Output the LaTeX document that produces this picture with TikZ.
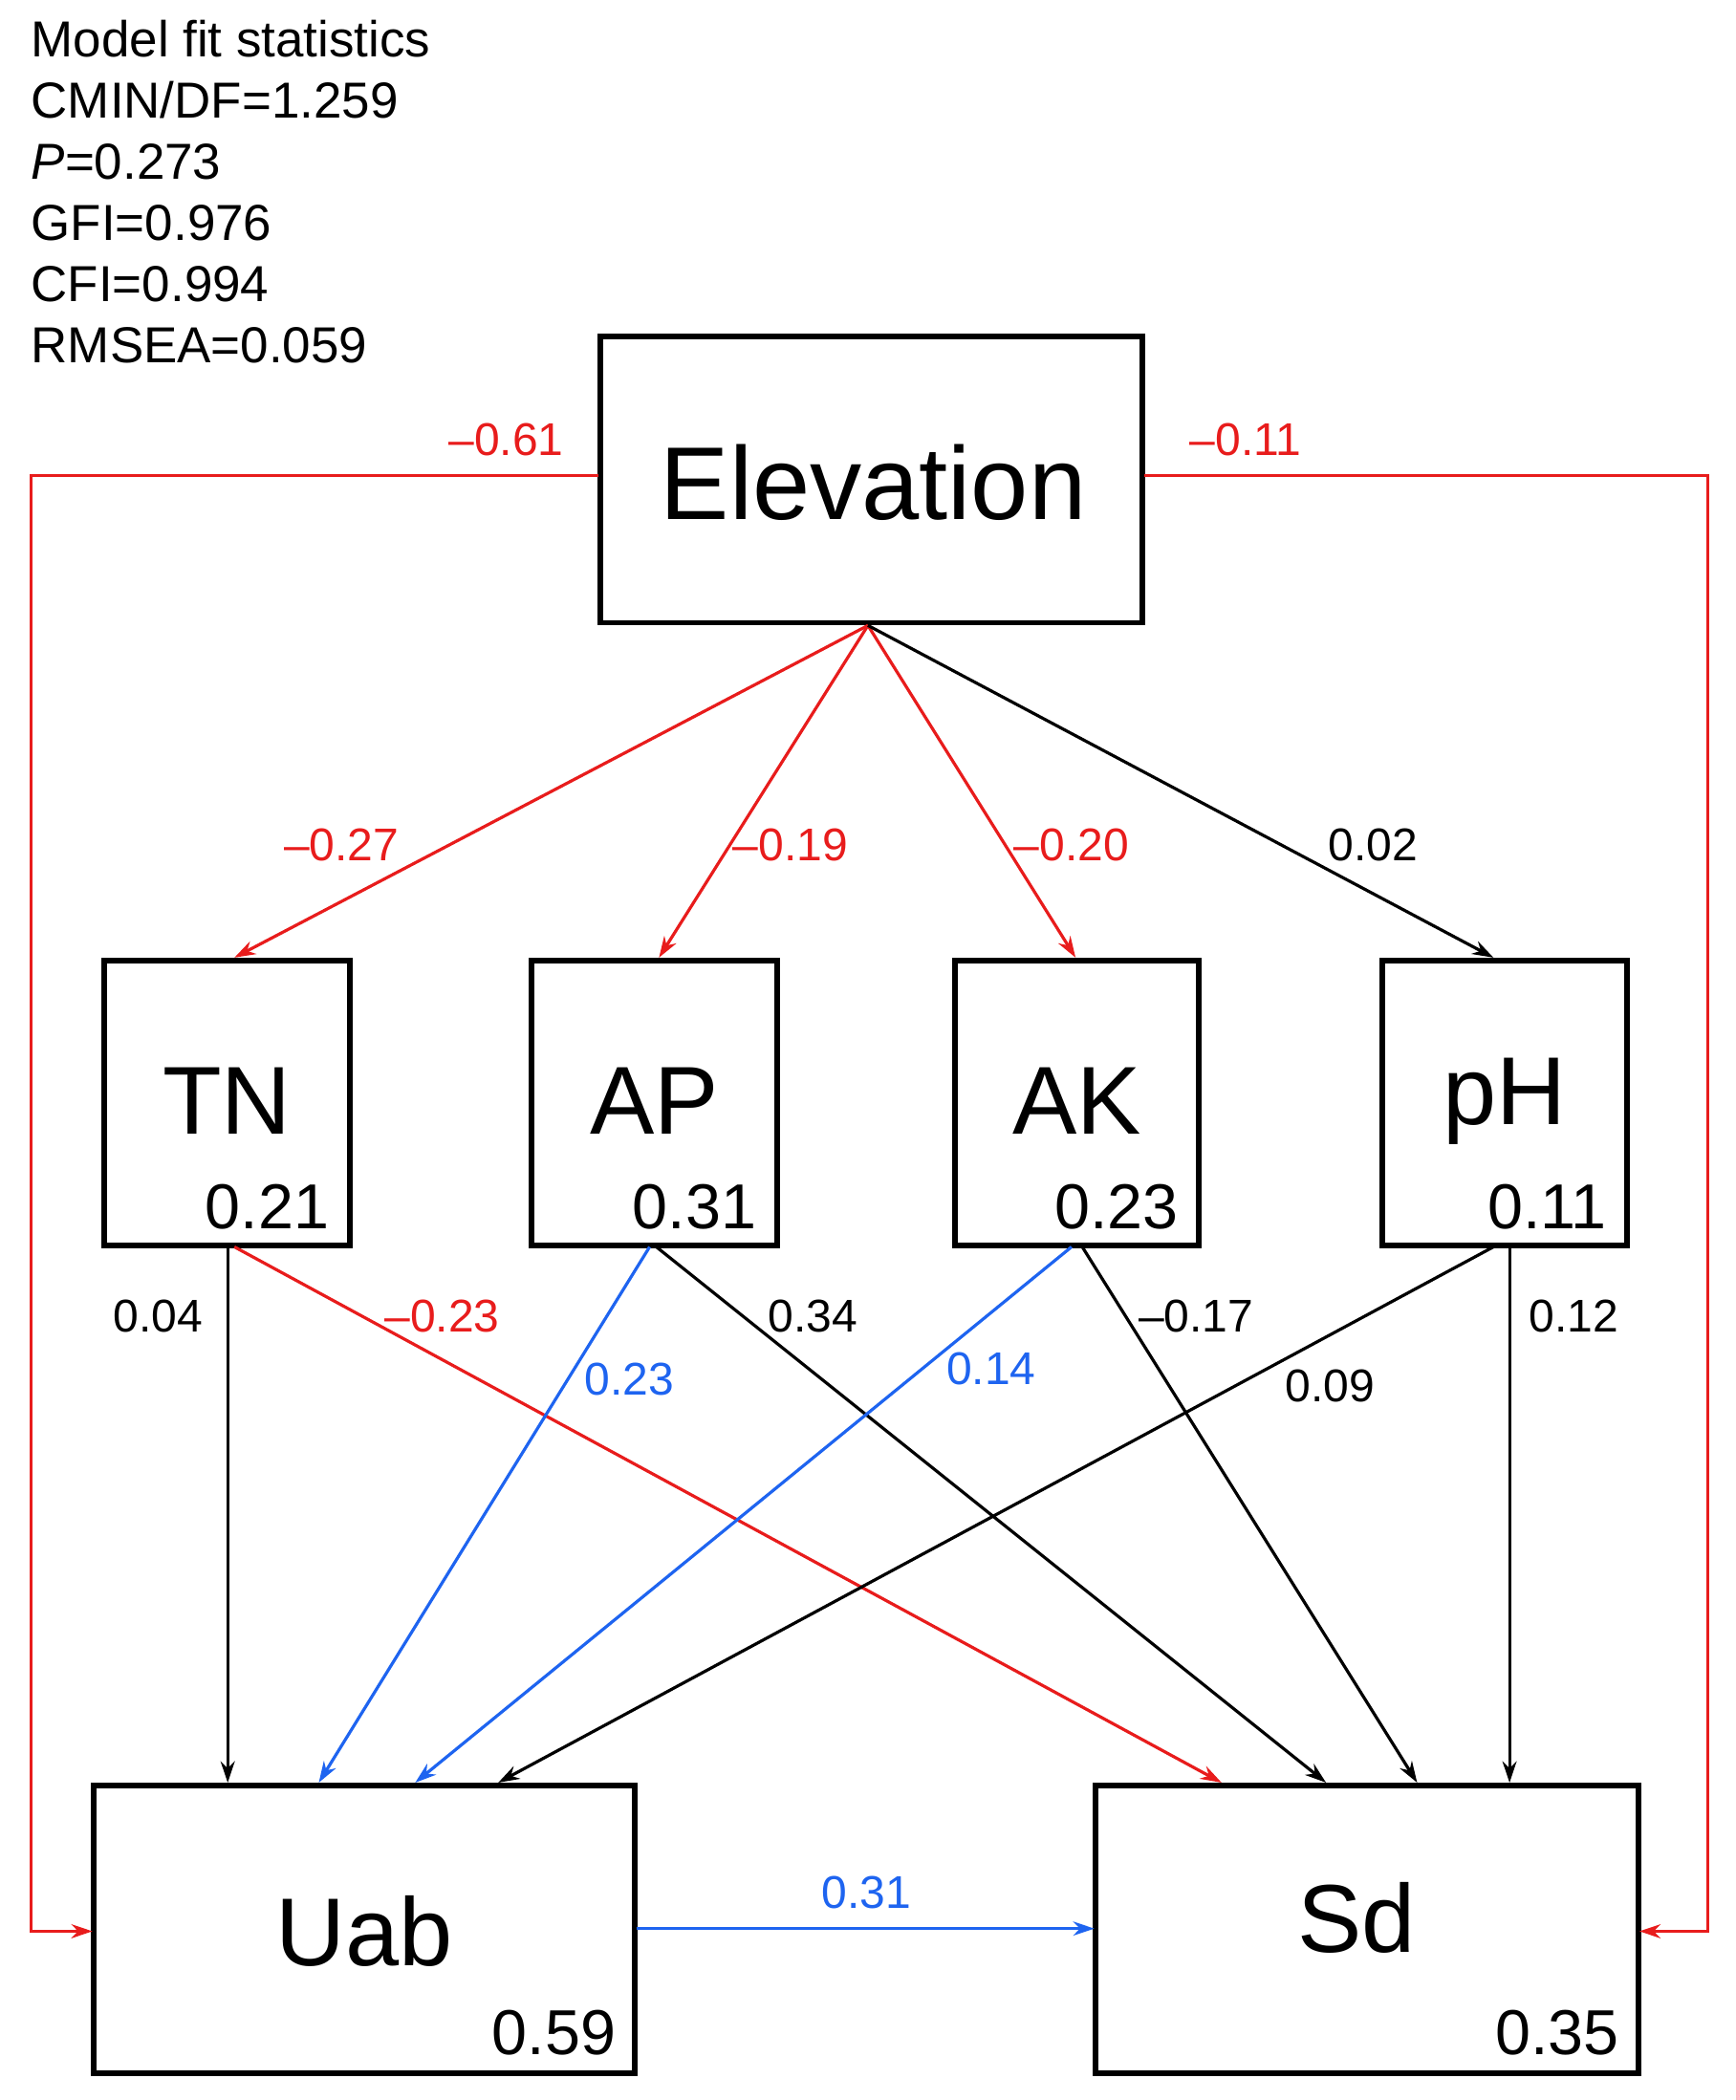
\documentclass[tikz,border=0pt]{standalone}
\usepackage{fontspec}
\setmainfont{Liberation Sans}
\usetikzlibrary{arrows.meta}
\definecolor{myred}{RGB}{232,28,28}
\definecolor{myblue}{RGB}{30,100,240}
\begin{document}
\begin{tikzpicture}[x=0.02cm,y=-0.02cm,
  box/.style={draw,line width=2.4pt,inner sep=0pt},
  arr/.style={line width=1.3pt,-{Stealth[length=9pt,width=6pt]}},
  lab/.style={font=\fontsize{19.5}{21}\selectfont,inner sep=0pt},
  big/.style={font=\fontsize{41}{45}\selectfont,inner sep=0pt},
  num/.style={font=\fontsize{27}{30}\selectfont,inner sep=0pt,anchor=south east}]
\useasboundingbox (0,0) rectangle (1296,1568);
\node[anchor=north west,align=left,font=\fontsize{21.5}{26}\selectfont,inner sep=0pt] (stats) at (23,15)
 {Model fit statistics\\CMIN/DF=1.259\\\textit{P}=0.273\\GFI=0.976\\CFI=0.994\\RMSEA=0.059};
% boxes
\draw[box] (448,251) rectangle (853,465);
\node[font=\fontsize{44}{48}\selectfont] (elev) at (652,360) {Elevation};
\foreach \n/\xa/\xb/\v in {TN/78/261/0.21, AP/397/580/0.31, AK/713/895/0.23, pH/1032/1215/0.11}{
  \draw[box] (\xa,717) rectangle (\xb,930);
  \node[big] (\n) at ({(\xa+\xb)/2},822) {\n};
  \node[num] (\n v) at (\xb-15,918) {\v};
}
\draw[box] (70,1333) rectangle (474,1548);
\node[big] (uab) at (272,1442) {Uab};
\node[num] (uabv) at (460,1535) {0.59};
\draw[box] (818,1333) rectangle (1223,1548);
\node[big] (sd) at (1013,1432) {Sd};
\node[num] (sdv) at (1209,1535) {0.35};
% coordinates
\coordinate (eb) at (648,467);
\coordinate (el) at (447,355); \coordinate (er) at (854,355);
\coordinate (ul) at (69,1442); \coordinate (ur) at (475,1440);
\coordinate (sl) at (817,1440); \coordinate (sr) at (1224,1442);
\coordinate (tnt) at (175,715); \coordinate (apt) at (492,715);
\coordinate (akt) at (803,715); \coordinate (pht) at (1115,715);
% elevation arrows
\draw[arr,myred] (el) -- (23,355) -- (23,1442) -- (ul);
\draw[arr,myred] (er) -- (1275,355) -- (1275,1442) -- (sr);
\draw[arr,myred] (eb) -- (tnt);
\draw[arr,myred] (eb) -- (apt);
\draw[arr,myred] (eb) -- (akt);
\draw[arr] (eb) -- (pht);
\node[lab,myred] (l1) at (378,328) {–0.61};
\node[lab,myred] (l2) at (930,328) {–0.11};
\node[lab,myred] (l3) at (255,631) {–0.27};
\node[lab,myred] (l4) at (590,631) {–0.19};
\node[lab,myred] (l5) at (800,631) {–0.20};
\node[lab] (l6) at (1025,631) {0.02};
% soil arrows
\draw[arr] (170,931) -- (170,1331);
\draw[arr,myred] (175,931) -- (912,1331);
\draw[arr,myblue] (485,931) -- (238,1331);
\draw[arr] (490,931) -- (990,1331);
\draw[arr,myblue] (800,931) -- (310,1331);
\draw[arr] (808,931) -- (1058,1331);
\draw[arr] (1115,931) -- (372,1331);
\draw[arr] (1127,931) -- (1127,1331);
\draw[arr,myblue] (ur) -- (sl);
\node[lab] at (118,983) {0.04};
\node[lab,myred] at (330,983) {–0.23};
\node[lab,myblue] at (470,1030) {0.23};
\node[lab] at (607,983) {0.34};
\node[lab,myblue] at (740,1022) {0.14};
\node[lab] at (893,983) {–0.17};
\node[lab] at (993,1035) {0.09};
\node[lab] at (1175,983) {0.12};
\node[lab,myblue] at (647,1413) {0.31};
\end{tikzpicture}
\end{document}
